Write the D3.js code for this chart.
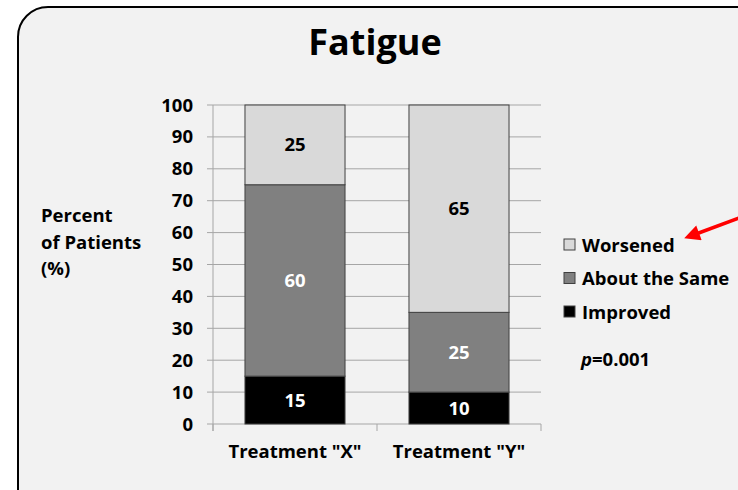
<!DOCTYPE html>
<html><head><meta charset="utf-8">
<script src="https://cdn.jsdelivr.net/npm/d3@7"></script>
<style>body{margin:0;background:#fff}svg{display:block}text{font-family:"Open Sans",sans-serif;font-weight:bold}</style>
</head><body>
<svg id="c" width="738" height="490"></svg>
<script>
const categories = ['Treatment "X"', 'Treatment "Y"'];
const seriesNames = ["Improved", "About the Same", "Worsened"];
const improved = [15, 10];
const aboutSame = [60, 25];
const worsened = [25, 65];
const yTicks = [0,10,20,30,40,50,60,70,80,90,100];
const colors = ["#000000", "#808080", "#d9d9d9"];
const labelColors = ["#ffffff", "#ffffff", "#000000"];

const svg = d3.select("#c");
svg.append("rect").attr("x",18).attr("y",7).attr("width",760).attr("height",520)
  .attr("rx",30).attr("ry",30).attr("fill","#f2f2f2").attr("stroke","#000").attr("stroke-width",2);

svg.append("text").attr("x",375).attr("y",55).attr("text-anchor","middle")
  .attr("font-size",36).text("Fatigue");

const x = d3.scaleBand().domain(categories).range([213,541]).paddingInner(0.39).paddingOuter(0.195);
const y = d3.scaleLinear().domain([0,100]).range([424,105]);

const g = svg.append("g");
g.selectAll(".grid").data(yTicks).join("line")
  .attr("x1",207).attr("x2",541).attr("y1",d=>y(d)).attr("y2",d=>y(d))
  .attr("stroke","#a6a6a6").attr("stroke-width",1);
g.append("line").attr("x1",213).attr("x2",213).attr("y1",y(100)).attr("y2",y(0)+7).attr("stroke","#a6a6a6");
const bounds = [213,377,541];
g.selectAll(".ct").data(bounds).join("line").attr("x1",d=>d).attr("x2",d=>d)
  .attr("y1",y(0)).attr("y2",y(0)+7).attr("stroke","#a6a6a6");

g.selectAll(".yl").data(yTicks).join("text").attr("x",193).attr("y",d=>y(d)+6.5)
  .attr("text-anchor","end").attr("font-size",18.5).text(d=>d);

const rows = categories.map((c,i)=>({cat:c, "Improved":improved[i], "About the Same":aboutSame[i], "Worsened":worsened[i]}));
const stack = d3.stack().keys(seriesNames)(rows);
stack.forEach((layer,li)=>{
  g.selectAll(".b"+li).data(layer).join("rect")
    .attr("x",d=>x(d.data.cat)).attr("width",x.bandwidth())
    .attr("y",d=>y(d[1])).attr("height",d=>y(d[0])-y(d[1]))
    .attr("fill",colors[li]).attr("stroke","#404040").attr("stroke-width",1);
  g.selectAll(".l"+li).data(layer).join("text")
    .attr("x",d=>x(d.data.cat)+x.bandwidth()/2).attr("y",d=>(y(d[0])+y(d[1]))/2+6.5)
    .attr("text-anchor","middle").attr("font-size",18.5).attr("fill",labelColors[li])
    .text(d=>d[1]-d[0]);
});

g.selectAll(".cl").data(categories).join("text")
  .attr("x",d=>x(d)+x.bandwidth()/2).attr("y",458).attr("text-anchor","middle")
  .attr("font-size",18.5).text(d=>d);

const yt = svg.append("text").attr("x",41).attr("y",222).attr("font-size",18.5);
["Percent","of Patients","(%)"].forEach((t,i)=>yt.append("tspan").attr("x",41).attr("y",222+i*26.5).text(t));

const legendOrder = ["Worsened","About the Same","Improved"];
legendOrder.forEach((n,i)=>{
  const idx = seriesNames.indexOf(n);
  const yy = 245 + i*33.5;
  svg.append("rect").attr("x",564).attr("y",yy-6).attr("width",11).attr("height",11)
    .attr("fill",colors[idx]).attr("stroke","#404040").attr("stroke-width",1);
  svg.append("text").attr("x",582).attr("y",yy+6.5).attr("font-size",18.5).text(n);
});
const pt = svg.append("text").attr("x",581).attr("y",366).attr("font-size",18.5);
pt.append("tspan").attr("font-style","italic").text("p");
pt.append("tspan").text("=0.001");

const defs = svg.append("defs");
defs.append("marker").attr("id","ah").attr("viewBox","0 0 10 10").attr("refX",2).attr("refY",5)
  .attr("markerWidth",5).attr("markerHeight",4.5).attr("orient","auto-start-reverse")
  .append("path").attr("d","M0,0 L10,5 L0,10 z").attr("fill","#ff0000");
svg.append("line").attr("x1",742).attr("y1",217).attr("x2",696).attr("y2",234)
  .attr("stroke","#ff0000").attr("stroke-width",3.5).attr("marker-end","url(#ah)");
</script>
</body></html>
